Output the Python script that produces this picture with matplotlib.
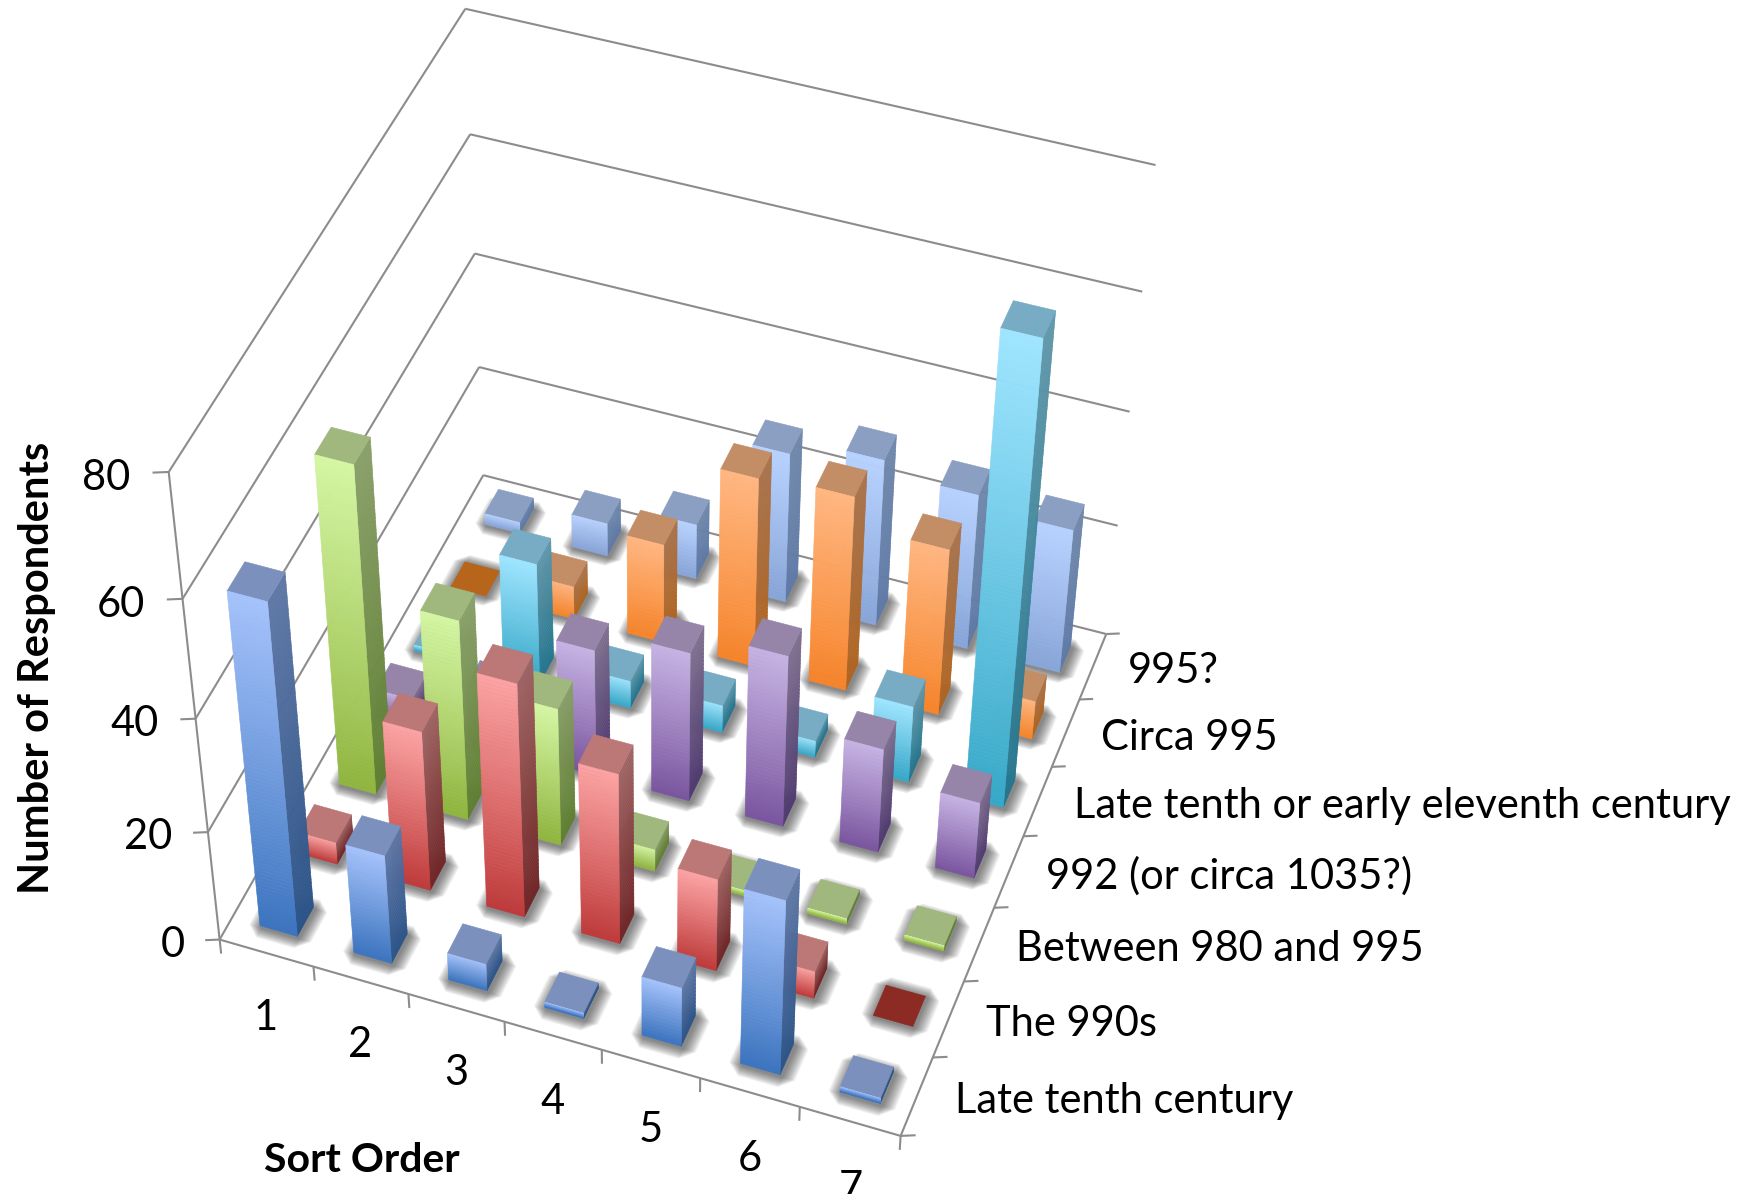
import numpy as np
import matplotlib
matplotlib.use('Agg')
import matplotlib.pyplot as plt
from matplotlib.colors import to_rgb
from mpl_toolkits.mplot3d.art3d import Poly3DCollection, Line3DCollection

plt.rcParams['font.family'] = ['Lato', 'DejaVu Sans']

# Chart data (one list per series, values for sort order 1..7)
sort_order = ['1', '2', '3', '4', '5', '6', '7']
series_names = ['Late tenth century', 'The 990s', 'Between 980 and 995', '992 (or circa 1035?)',
                'Late tenth or early eleventh century', 'Circa 995', '995?']
late_tenth = [59, 20, 5, 1, 11, 32, 1]
the_990s = [4, 29, 42, 31, 17, 5, 0]
between = [58, 36, 25, 4, 1, 1, 1]
circa_1035 = [5, 10, 23, 27, 31, 19, 14]
late_early = [1, 22, 5, 5, 3, 14, 80]
circa_995 = [0, 6, 18, 34, 35, 30, 7]
question = [2, 6, 10, 27, 30, 28, 26]
z_ticks = [0, 20, 40, 60, 80]

all_series = [late_tenth, the_990s, between, circa_1035, late_early, circa_995, question]

# top, front light, front dark, side light, side dark, colour of a bar with no height
palette = [
    ('#7b90bd', '#a5c2fb', '#3b74bf', '#6078a6', '#2c5488', '#7b90bd'),
    ('#bb7877', '#fca3a3', '#bf3a3a', '#a06565', '#702526', '#8c2a24'),
    ('#a0b87d', '#d5f6a3', '#90b53f', '#8aa06a', '#5f7f31', '#a0b87d'),
    ('#9784a9', '#c6b3e3', '#7a559f', '#80708f', '#4f3a70', '#9784a9'),
    ('#77acc4', '#9fe5ff', '#36a8c8', '#6198ab', '#24758e', '#77acc4'),
    ('#c38d65', '#ffb681', '#f6842a', '#a9744d', '#b06420', '#b8651c'),
    ('#8b9fc2', '#b8d2ff', '#88a5d8', '#7088aa', '#5f7aa8', '#8b9fc2'),
]

W, H = 1751, 1194
GRID = '#8c8c8c'

# Camera: where known chart corners land in the picture (x, y, value -> pixel)
calib_world = [(0, 0, 0), (7, 0, 0), (7, 7, 0), (0, 7, 0),
               (0, 0, 20), (0, 0, 40), (0, 0, 60), (0, 0, 80),
               (0, 7, 20), (0, 7, 40), (0, 7, 60), (0, 7, 80),
               (7, 7, 20), (7, 7, 40), (7, 7, 60), (7, 7, 80)]
calib_pixel = [(220, 941), (900, 1136), (1105, 634), (483, 475),
               (208, 832), (196, 718), (182, 598), (169, 472),
               (480, 366), (475, 255), (469, 134), (465, 9),
               (1119, 525), (1130, 411), (1142, 293), (1156, 165)]


def fit_camera(world, pixel):
    rows = []
    for (x, y, z), (u, v) in zip(world, pixel):
        p = [x, y, z / 10, 1]
        rows.append(p + [0, 0, 0, 0] + [-u * c for c in p])
        rows.append([0, 0, 0, 0] + p + [-v * c for c in p])
    p = np.linalg.svd(np.array(rows, dtype=float))[2][-1].reshape(3, 4)
    p[:, 2] /= 10
    p = p / p[2, 3]
    return np.array([p[0], p[1], [1e-3, 1e-3, 1e-4, 0], p[2]])


def lerp(a, b, t):
    a, b = np.array(to_rgb(a)), np.array(to_rgb(b))
    return tuple(a + (b - a) * t)


def bar_faces(i, j, val, colors):
    x0, x1, y0, y1 = i + 0.3, i + 0.7, j + 0.3, j + 0.7
    verts, cols = [], []
    top, f_hi, f_lo, s_hi, s_lo, flat = colors
    if val == 0:
        return [[(x0, y0, 0), (x1, y0, 0), (x1, y1, 0), (x0, y1, 0)]], [to_rgb(flat)]
    n = max(16, int(val * 1.5))
    levels = np.linspace(0, val, n + 1)
    for k in range(n):
        t = 1 - (k + 0.5) / n
        z0, z1 = levels[k], levels[k + 1]
        verts.append([(x0, y0, z0), (x1, y0, z0), (x1, y0, z1), (x0, y0, z1)])
        cols.append(lerp(f_hi, f_lo, t))
        verts.append([(x1, y0, z0), (x1, y1, z0), (x1, y1, z1), (x1, y0, z1)])
        cols.append(lerp(s_hi, s_lo, t))
    verts.append([(x0, y0, val), (x1, y0, val), (x1, y1, val), (x0, y1, val)])
    cols.append(to_rgb(top))
    return verts, cols


def shadow_poly(i, j, m):
    # footprint grown by m, corners cut so the halo looks round
    x0, x1 = i + 0.3 - m + 0.025, i + 0.7 + m + 0.025
    y0, y1 = j + 0.3 - m - 0.02, j + 0.7 + m - 0.02
    return [(x0 + m, y0, 0), (x1 - m, y0, 0), (x1, y0 + m, 0), (x1, y1 - m, 0),
            (x1 - m, y1, 0), (x0 + m, y1, 0), (x0, y1 - m, 0), (x0, y0 + m, 0)]


fig = plt.figure(figsize=(W / 100, H / 100), dpi=100)
ax = fig.add_axes([0, (H - W) / 2 / H, 1, W / H], projection='3d')
ax.set_axis_off()
ax.set_xticks([])
ax.set_yticks([])
ax.set_zticks([])
M = fit_camera(calib_world, calib_pixel)
ax.get_proj = lambda: M
ax.computed_zorder = False
ax.viewLim.intervalx = (0, W)
ax.viewLim.intervaly = (H + (W - H) / 2, -(W - H) / 2)


def label_at(x, y, z, text, **kw):
    # put a flat label where the point (x, y, z) lands on the picture
    u, v, _, w = M @ np.array([x, y, z, 1.0])
    fig.text(u / w / W, 1 - v / w / H, text, va='center', fontsize=30, color='black', **kw)


# Walls, floor and tick marks
segs = []
for z in z_ticks:
    segs.append([(0, 0, z), (0, 7, z)])
    segs.append([(0, 7, z), (7, 7, z)])
    segs.append([(0, 0, z), (-0.13, -0.056, z)])
    label_at(-0.32, -0.13, z - 0.8, str(z), ha='right')
segs.append([(0, 0, 0), (0, 0, 80)])
segs.append([(0, 0, 0), (7, 0, 0)])
segs.append([(7, 0, 0), (7, 7, 0)])
for i in range(8):
    segs.append([(i, 0, 0), (i, 0, -2.7)])
    segs.append([(7, i, 0), (7.13, i + 0.056, 0)])
ax.add_collection3d(Line3DCollection(segs, colors=GRID, linewidths=1.5, zorder=1))

for i, label in enumerate(sort_order):
    label_at(i * 1.02 + 0.42, 0, -13, label, ha='center')
for j, label in enumerate(series_names):
    label_at(7.34, j + 0.65, -1.2, label, ha='left')

# Soft shadows on the floor
for j in range(7):
    for i in range(7):
        for m in np.linspace(0.012, 0.13, 12):
            ax.add_collection3d(Poly3DCollection([shadow_poly(i, j, m)], facecolors='#222222',
                                                 edgecolors='none', alpha=0.06, zorder=2))

# Bars, back row first and left to right so nearer ones paint over
order = 10
for j in range(6, -1, -1):
    for i in range(7):
        verts, cols = bar_faces(i, j, all_series[j][i], palette[j])
        ax.add_collection3d(Poly3DCollection(verts, facecolors=cols, edgecolors=cols,
                                             linewidths=0.4, zorder=order))
        order += 1

fig.text(37 / W, 1 - 668 / H, 'Number of Respondents', rotation=90, ha='center', va='center',
         fontsize=30, fontweight='bold', color='black')
fig.text(362 / W, 1 - 1160 / H, 'Sort Order', ha='center', va='center',
         fontsize=29.5, fontweight='bold', color='black')

fig.savefig('out.png', dpi=100)
